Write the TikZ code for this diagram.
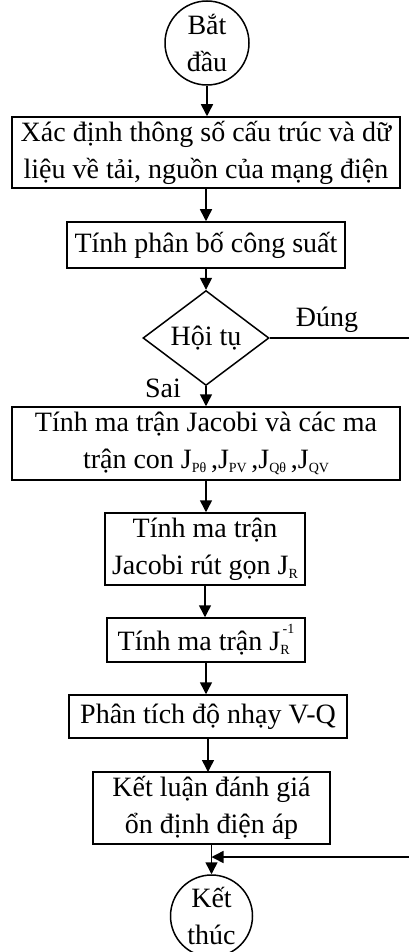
\documentclass[tikz,border=0pt]{standalone}
\usepackage{fontspec}
\setmainfont{Liberation Serif}
\usetikzlibrary{shapes.geometric,arrows.meta}
\newcommand{\mysub}[1]{\raisebox{-0.3ex}{\fontsize{7}{7}\selectfont #1}}
\newcommand{\mysup}[1]{\raisebox{1.3ex}{\fontsize{7}{7}\selectfont #1}}
\begin{document}
\begin{tikzpicture}[x=0.5pt,y=-0.5pt,
  txt/.style={font=\fontsize{14}{18.5}\selectfont},
  box/.style={txt,draw,line width=0.75pt,inner sep=0pt,align=center},
  term/.style={txt,draw,circle,line width=0.75pt,inner sep=0pt,align=center},
  dec/.style={txt,draw,diamond,line width=0.75pt,inner sep=0pt,minimum width=63pt,minimum height=35pt},
  arr/.style={line width=0.75pt,-{Triangle[length=6pt,width=6pt]}},
  lin/.style={line width=0.75pt}]
\useasboundingbox (0,0) rectangle (408,952);

\node[term,minimum size=42pt] (start) at (207,43) {Bắt\\đầu};
\node[box,minimum width=194pt,minimum height=35.5pt] (b1) at (206,152.5)
  {Xác định thông số cấu trúc và dữ\\liệu về tải, nguồn của mạng điện};
\node[box,minimum width=139pt,minimum height=23pt] (b2) at (206,245) {Tính phân bố công suất};
\node[dec] (dec) at (206,338) {Hội tụ};
\node[txt] (yes) at (327,320) {Đúng};
\node[txt] (no) at (163,388) {Sai};
\node[box,minimum width=194pt,minimum height=36.5pt] (b3) at (206,443.5)
  {Tính ma trận Jacobi và các ma\\trận con J\mysub{Pθ}\,,J\mysub{PV}\,,J\mysub{Qθ}\,,J\mysub{QV}};
\node[box,minimum width=100pt,minimum height=36pt] (b4) at (205,549)
  {Tính ma trận\\Jacobi rút gọn J\mysub{R}};
\node[box,minimum width=99pt,minimum height=22pt] (b5) at (206,640)
  {Tính ma trận J\mysub{R}\hspace{-0.25em}\mysup{-1}};
\node[box,minimum width=139pt,minimum height=21.5pt] (b6) at (208,716.5)
  {Phân tích độ nhạy V-Q};
\node[box,minimum width=118.5pt,minimum height=36pt] (b7) at (211.5,808)
  {Kết luận đánh giá\\ổn định điện áp};
\node[term,minimum size=41pt] (end) at (211.5,916) {Kết\\thúc};

\coordinate (r1) at (413,338);
\coordinate (r2) at (413,857);
\coordinate (b7in) at (208,772);

\draw[arr] (start.south) -- (start.south |- b1.north);
\draw[arr] (b1.south) -- (b1.south |- b2.north);
\draw[arr] (b2.south) -- (dec.north);
\draw[arr] (dec.south) -- (dec.south |- b3.north);
\draw[arr] (b3.south) -- (b3.south |- b4.north);
\draw[arr] (b4.south) -- (b4.south |- b5.north);
\draw[arr] (b5.south) -- (b5.south |- b6.north);
\draw[arr] (b6.south) -- (b7in);
\draw[arr] (b7.south) -- (end.north);
\draw[arr] (dec.east) -- (r1) -- (r2) -- (r2 -| b7.south);
\end{tikzpicture}
\end{document}
